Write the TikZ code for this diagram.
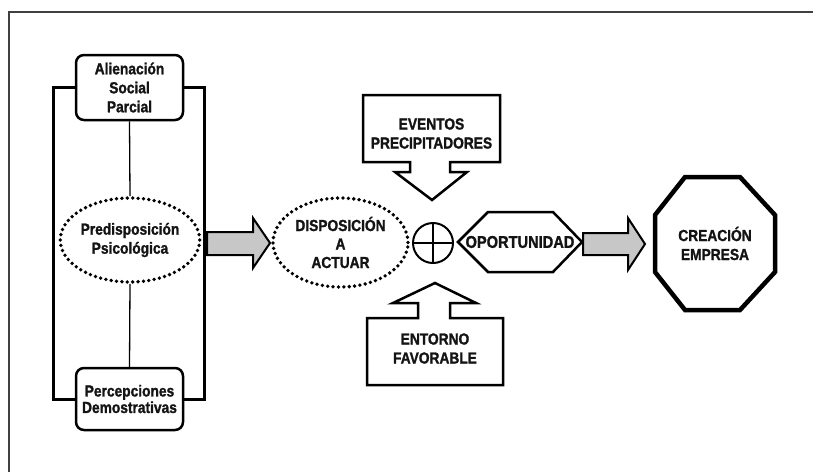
\documentclass[tikz,border=0pt]{standalone}
\usepackage{fontspec}
\setmainfont{Liberation Sans}[FakeStretch=0.86, BoldFeatures={FakeBold=1.3}]
\usetikzlibrary{shapes.geometric}
\begin{document}
\begin{tikzpicture}[x=1pt,y=-1pt,
  lbl/.style={align=center, text=black!92, inner sep=0pt, font=\bfseries\fontsize{16}{19}\selectfont},
  rbox/.style={lbl, draw=black, line width=2.5pt, rounded corners=8pt, fill=white, minimum width=107pt},
  dotell/.style={lbl, ellipse, draw=black, line width=3.8pt, dash pattern=on 0pt off 5.4pt, line cap=round, fill=white},
  bigarrow/.style={draw=black, line width=2pt, fill=black!22, line join=miter},
  callout/.style={draw=black, line width=2.5pt, fill=white, line join=miter},
  thinline/.style={draw=black, line width=1.3pt},
  bracket/.style={draw=black, line width=3pt, line join=miter}]
\useasboundingbox (0,0) rectangle (813,472);
\fill[white] (0,0) rectangle (813,472);
% frame
\draw[line width=1.5pt, black!75] (9,472) -- (9,12) -- (813,12);

% left group
\node[rbox, minimum height=65pt] (ali) at (129.5,87.5) {Alienación\\Social\\Parcial};
\node[rbox, minimum height=62pt, font=\bfseries\fontsize{16}{16.5}\selectfont] (per) at (129.5,399) {Percepciones\\Demostrativas};
\node[dotell, minimum width=134pt, minimum height=84pt] (pre) at (130,240) {Predisposición\\Psicológica};
\draw[bracket] (ali.west) -- ++(-21,0) |- (per.west);
\draw[bracket] (ali.east) -- ++(20,0) |- (per.east);
\draw[thinline] (ali.south) -- (pre.north);
\draw[thinline] (pre.south) -- (per.north);

% arrow 1
\draw[bigarrow] (207,232) -- (253,232) -- (253,218) -- (270,243) -- (253,268) -- (253,255) -- (207,255) -- cycle;

\node[dotell, minimum width=135pt, minimum height=89pt, font=\bfseries\fontsize{16}{18.5}\selectfont] (dis) at (340.5,242.5) {DISPOSICIÓN\\A\\ACTUAR};

% circle plus
\node[circle, draw=black, line width=2pt, minimum size=40pt, inner sep=0pt] (plus) at (433,243) {};
\draw[line width=2pt] (plus.north) -- (plus.south);
\draw[line width=2pt] (plus.west) -- (plus.east);

% eventos callout
\draw[callout] (363,95) -- (500,95) -- (500,162) -- (450,162) -- (450,172) -- (467,172) -- (432,200) -- (395,172) -- (410,172) -- (410,162) -- (363,162) -- cycle;
\node[lbl] (ev) at (431.5,133.5) {EVENTOS\\PRECIPITADORES};

% entorno callout
\draw[callout] (435,283) -- (476,303) -- (450,303) -- (450,318) -- (503,318) -- (503,385) -- (367,385) -- (367,318) -- (418,318) -- (418,303) -- (393,303) -- cycle;
\node[lbl] (ent) at (435,348.5) {ENTORNO\\FAVORABLE};

% hexagon
\draw[callout] (458,242) -- (488,212) -- (553,212) -- (582,242) -- (553,272) -- (488,272) -- cycle;
\node[lbl, font=\bfseries\fontsize{17}{19}\selectfont] (op) at (520,242) {OPORTUNIDAD};

% arrow 2
\draw[bigarrow] (583,233) -- (628,233) -- (628,218) -- (645,244) -- (628,270) -- (628,255) -- (583,255) -- cycle;

% octagon
\draw[draw=black, line width=4.5pt, line join=miter, fill=white] (685,177) -- (740,177) -- (775,215) -- (775,272) -- (740,310) -- (685,310) -- (655,272) -- (655,215) -- cycle;
\node[lbl] (cre) at (715,243.5) {CREACIÓN\\EMPRESA};
\end{tikzpicture}
\end{document}
